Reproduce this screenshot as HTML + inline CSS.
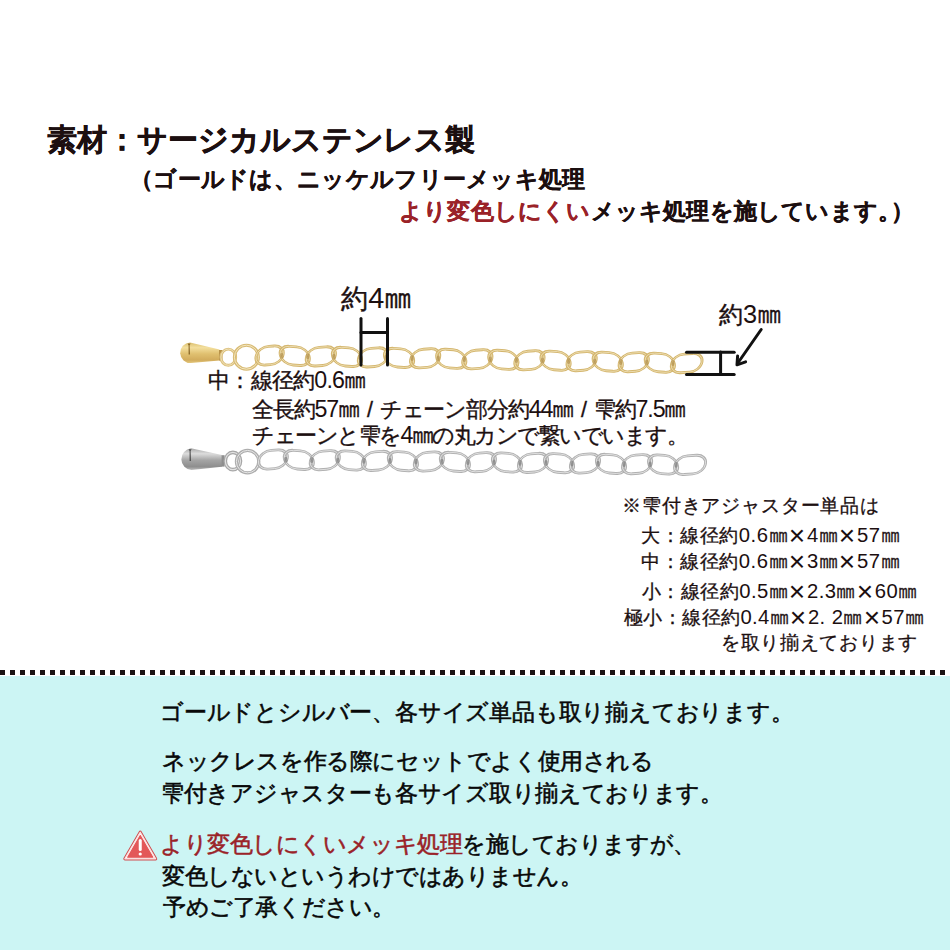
<!DOCTYPE html>
<html><head><meta charset="utf-8">
<style>
html,body{margin:0;padding:0;}
body{width:950px;height:950px;position:relative;overflow:hidden;background:#fff;font-family:"Liberation Sans",sans-serif;color:#1c0f10;}
.t{position:absolute;white-space:nowrap;line-height:1;z-index:2;}
.r{color:#9a2228;}
.k{color:#080808;}
.x{display:inline-block;width:1em;text-align:center;transform:scale(1.5);transform-origin:50% 52%;-webkit-text-stroke-width:0;}
.mm{display:inline-block;transform:scale(1.04,1.3);transform-origin:50% 84.6%;}
.sp{letter-spacing:2px;}
.n{font-size:1.08em;line-height:0;-webkit-text-stroke-width:0;}
.p1{letter-spacing:-10px;}
#cyan{position:absolute;left:0;top:676px;width:950px;height:274px;background:#ccf5f4;}
#dots{position:absolute;left:0;top:670px;width:950px;height:5px;background:repeating-linear-gradient(90deg,#1a1212 0,#1a1212 5px,transparent 5px,transparent 10px);}
svg{position:absolute;left:0;top:0;z-index:1;}
</style></head><body>
<div id="cyan"></div>
<div id="dots"></div>
<svg width="950" height="950" viewBox="0 0 950 950">
<defs>
 <linearGradient id="gd" x1="0" y1="0" x2="0" y2="1">
  <stop offset="0" stop-color="#dcc070"/><stop offset="0.25" stop-color="#f3df9e"/><stop offset="0.55" stop-color="#e0c070"/><stop offset="0.85" stop-color="#d2ac5c"/><stop offset="1" stop-color="#e4c87e"/>
 </linearGradient>
 <linearGradient id="sd" x1="0" y1="0" x2="0" y2="1">
  <stop offset="0" stop-color="#a8a8a8"/><stop offset="0.25" stop-color="#dcdcdc"/><stop offset="0.55" stop-color="#a4a4a4"/><stop offset="0.85" stop-color="#8e8e8e"/><stop offset="1" stop-color="#bdbdbd"/>
 </linearGradient>
</defs>
<!-- gold drop -->
<path d="M190 342.5 L219.5 349.6 L219.5 360.6 L191 363.1 A10.3 10.3 0 0 1 190 342.5 Z" fill="url(#gd)"/>
<path d="M187.6 343.6 L190.6 343.6 L189.6 345.5 L190 354.5 L188.6 354.5 L188.6 345.5 Z" fill="#8a6828"/>
<rect x="219" y="350" width="3.4" height="10.6" fill="#b89248"/>
<ellipse cx="228.3" cy="357.2" rx="7.4" ry="8.1" fill="none" stroke="#dcc07c" stroke-width="2.9"/>
<ellipse cx="228.3" cy="357.2" rx="7.4" ry="8.1" fill="none" stroke="#f2e4bd" stroke-width="0.9"/>
<circle cx="246.4" cy="357.2" r="12" fill="none" stroke="#d8bb74" stroke-width="3.1"/>
<circle cx="246.4" cy="357.2" r="12" fill="none" stroke="#f4e7c2" stroke-width="1.0"/>
<rect x="256.0" y="346.3" width="27.2" height="18.4" rx="11" ry="9" transform="translate(269.6 355.5) rotate(-4) skewX(-14) translate(-269.6 -355.5)" fill="none" stroke="#d4b66e" stroke-width="2.8"/>
<rect x="256.0" y="346.3" width="27.2" height="18.4" rx="11" ry="9" transform="translate(269.6 355.5) rotate(-4) skewX(-14) translate(-269.6 -355.5)" fill="none" stroke="#f0e2b8" stroke-width="0.8"/>
<rect x="280.2" y="346.7" width="29.1" height="18.4" rx="11" ry="9" transform="translate(294.7 355.9) rotate(4) skewX(14) translate(-294.7 -355.9)" fill="none" stroke="#d4b66e" stroke-width="2.8"/>
<rect x="280.2" y="346.7" width="29.1" height="18.4" rx="11" ry="9" transform="translate(294.7 355.9) rotate(4) skewX(14) translate(-294.7 -355.9)" fill="none" stroke="#f0e2b8" stroke-width="0.8"/>
<rect x="306.3" y="347.2" width="29.1" height="18.4" rx="11" ry="9" transform="translate(320.8 356.4) rotate(-4) skewX(-14) translate(-320.8 -356.4)" fill="none" stroke="#d4b66e" stroke-width="2.8"/>
<rect x="306.3" y="347.2" width="29.1" height="18.4" rx="11" ry="9" transform="translate(320.8 356.4) rotate(-4) skewX(-14) translate(-320.8 -356.4)" fill="none" stroke="#f0e2b8" stroke-width="0.8"/>
<rect x="332.4" y="347.7" width="29.1" height="18.4" rx="11" ry="9" transform="translate(346.9 356.9) rotate(4) skewX(14) translate(-346.9 -356.9)" fill="none" stroke="#d4b66e" stroke-width="2.8"/>
<rect x="332.4" y="347.7" width="29.1" height="18.4" rx="11" ry="9" transform="translate(346.9 356.9) rotate(4) skewX(14) translate(-346.9 -356.9)" fill="none" stroke="#f0e2b8" stroke-width="0.8"/>
<rect x="358.4" y="348.2" width="29.1" height="18.4" rx="11" ry="9" transform="translate(373.0 357.4) rotate(-4) skewX(-14) translate(-373.0 -357.4)" fill="none" stroke="#d4b66e" stroke-width="2.8"/>
<rect x="358.4" y="348.2" width="29.1" height="18.4" rx="11" ry="9" transform="translate(373.0 357.4) rotate(-4) skewX(-14) translate(-373.0 -357.4)" fill="none" stroke="#f0e2b8" stroke-width="0.8"/>
<rect x="384.5" y="348.7" width="29.1" height="18.4" rx="11" ry="9" transform="translate(399.1 357.9) rotate(4) skewX(14) translate(-399.1 -357.9)" fill="none" stroke="#d4b66e" stroke-width="2.8"/>
<rect x="384.5" y="348.7" width="29.1" height="18.4" rx="11" ry="9" transform="translate(399.1 357.9) rotate(4) skewX(14) translate(-399.1 -357.9)" fill="none" stroke="#f0e2b8" stroke-width="0.8"/>
<rect x="410.6" y="349.1" width="29.1" height="18.4" rx="11" ry="9" transform="translate(425.1 358.3) rotate(-4) skewX(-14) translate(-425.1 -358.3)" fill="none" stroke="#d4b66e" stroke-width="2.8"/>
<rect x="410.6" y="349.1" width="29.1" height="18.4" rx="11" ry="9" transform="translate(425.1 358.3) rotate(-4) skewX(-14) translate(-425.1 -358.3)" fill="none" stroke="#f0e2b8" stroke-width="0.8"/>
<rect x="436.7" y="349.6" width="29.1" height="18.4" rx="11" ry="9" transform="translate(451.2 358.8) rotate(4) skewX(14) translate(-451.2 -358.8)" fill="none" stroke="#d4b66e" stroke-width="2.8"/>
<rect x="436.7" y="349.6" width="29.1" height="18.4" rx="11" ry="9" transform="translate(451.2 358.8) rotate(4) skewX(14) translate(-451.2 -358.8)" fill="none" stroke="#f0e2b8" stroke-width="0.8"/>
<rect x="462.8" y="350.1" width="29.1" height="18.4" rx="11" ry="9" transform="translate(477.3 359.3) rotate(-4) skewX(-14) translate(-477.3 -359.3)" fill="none" stroke="#d4b66e" stroke-width="2.8"/>
<rect x="462.8" y="350.1" width="29.1" height="18.4" rx="11" ry="9" transform="translate(477.3 359.3) rotate(-4) skewX(-14) translate(-477.3 -359.3)" fill="none" stroke="#f0e2b8" stroke-width="0.8"/>
<rect x="488.8" y="350.6" width="29.1" height="18.4" rx="11" ry="9" transform="translate(503.4 359.8) rotate(4) skewX(14) translate(-503.4 -359.8)" fill="none" stroke="#d4b66e" stroke-width="2.8"/>
<rect x="488.8" y="350.6" width="29.1" height="18.4" rx="11" ry="9" transform="translate(503.4 359.8) rotate(4) skewX(14) translate(-503.4 -359.8)" fill="none" stroke="#f0e2b8" stroke-width="0.8"/>
<rect x="514.9" y="351.1" width="29.1" height="18.4" rx="11" ry="9" transform="translate(529.5 360.3) rotate(-4) skewX(-14) translate(-529.5 -360.3)" fill="none" stroke="#d4b66e" stroke-width="2.8"/>
<rect x="514.9" y="351.1" width="29.1" height="18.4" rx="11" ry="9" transform="translate(529.5 360.3) rotate(-4) skewX(-14) translate(-529.5 -360.3)" fill="none" stroke="#f0e2b8" stroke-width="0.8"/>
<rect x="541.0" y="351.5" width="29.1" height="18.4" rx="11" ry="9" transform="translate(555.5 360.7) rotate(4) skewX(14) translate(-555.5 -360.7)" fill="none" stroke="#d4b66e" stroke-width="2.8"/>
<rect x="541.0" y="351.5" width="29.1" height="18.4" rx="11" ry="9" transform="translate(555.5 360.7) rotate(4) skewX(14) translate(-555.5 -360.7)" fill="none" stroke="#f0e2b8" stroke-width="0.8"/>
<rect x="567.1" y="352.0" width="29.1" height="18.4" rx="11" ry="9" transform="translate(581.6 361.2) rotate(-4) skewX(-14) translate(-581.6 -361.2)" fill="none" stroke="#d4b66e" stroke-width="2.8"/>
<rect x="567.1" y="352.0" width="29.1" height="18.4" rx="11" ry="9" transform="translate(581.6 361.2) rotate(-4) skewX(-14) translate(-581.6 -361.2)" fill="none" stroke="#f0e2b8" stroke-width="0.8"/>
<rect x="593.2" y="352.5" width="29.1" height="18.4" rx="11" ry="9" transform="translate(607.7 361.7) rotate(4) skewX(14) translate(-607.7 -361.7)" fill="none" stroke="#d4b66e" stroke-width="2.8"/>
<rect x="593.2" y="352.5" width="29.1" height="18.4" rx="11" ry="9" transform="translate(607.7 361.7) rotate(4) skewX(14) translate(-607.7 -361.7)" fill="none" stroke="#f0e2b8" stroke-width="0.8"/>
<rect x="619.2" y="353.0" width="29.1" height="18.4" rx="11" ry="9" transform="translate(633.8 362.2) rotate(-4) skewX(-14) translate(-633.8 -362.2)" fill="none" stroke="#d4b66e" stroke-width="2.8"/>
<rect x="619.2" y="353.0" width="29.1" height="18.4" rx="11" ry="9" transform="translate(633.8 362.2) rotate(-4) skewX(-14) translate(-633.8 -362.2)" fill="none" stroke="#f0e2b8" stroke-width="0.8"/>
<rect x="645.3" y="353.5" width="29.1" height="18.4" rx="11" ry="9" transform="translate(659.9 362.7) rotate(4) skewX(14) translate(-659.9 -362.7)" fill="none" stroke="#d4b66e" stroke-width="2.8"/>
<rect x="645.3" y="353.5" width="29.1" height="18.4" rx="11" ry="9" transform="translate(659.9 362.7) rotate(4) skewX(14) translate(-659.9 -362.7)" fill="none" stroke="#f0e2b8" stroke-width="0.8"/>
<rect x="671.4" y="353.9" width="30.6" height="18.4" rx="11" ry="9" transform="translate(686.7 363.1) rotate(-4) skewX(-14) translate(-686.7 -363.1)" fill="none" stroke="#d4b66e" stroke-width="2.8"/>
<rect x="671.4" y="353.9" width="30.6" height="18.4" rx="11" ry="9" transform="translate(686.7 363.1) rotate(-4) skewX(-14) translate(-686.7 -363.1)" fill="none" stroke="#f0e2b8" stroke-width="0.8"/>
<ellipse cx="281.7" cy="355.7" rx="1.7" ry="3.0" fill="#a8843e" opacity="0.55"/>
<ellipse cx="307.8" cy="356.2" rx="1.7" ry="3.0" fill="#a8843e" opacity="0.55"/>
<ellipse cx="333.9" cy="356.7" rx="1.7" ry="3.0" fill="#a8843e" opacity="0.55"/>
<ellipse cx="359.9" cy="357.1" rx="1.7" ry="3.0" fill="#a8843e" opacity="0.55"/>
<ellipse cx="386.0" cy="357.6" rx="1.7" ry="3.0" fill="#a8843e" opacity="0.55"/>
<ellipse cx="412.1" cy="358.1" rx="1.7" ry="3.0" fill="#a8843e" opacity="0.55"/>
<ellipse cx="438.2" cy="358.6" rx="1.7" ry="3.0" fill="#a8843e" opacity="0.55"/>
<ellipse cx="464.3" cy="359.1" rx="1.7" ry="3.0" fill="#a8843e" opacity="0.55"/>
<ellipse cx="490.3" cy="359.5" rx="1.7" ry="3.0" fill="#a8843e" opacity="0.55"/>
<ellipse cx="516.4" cy="360.0" rx="1.7" ry="3.0" fill="#a8843e" opacity="0.55"/>
<ellipse cx="542.5" cy="360.5" rx="1.7" ry="3.0" fill="#a8843e" opacity="0.55"/>
<ellipse cx="568.6" cy="361.0" rx="1.7" ry="3.0" fill="#a8843e" opacity="0.55"/>
<ellipse cx="594.7" cy="361.5" rx="1.7" ry="3.0" fill="#a8843e" opacity="0.55"/>
<ellipse cx="620.7" cy="361.9" rx="1.7" ry="3.0" fill="#a8843e" opacity="0.55"/>
<ellipse cx="646.8" cy="362.4" rx="1.7" ry="3.0" fill="#a8843e" opacity="0.55"/>
<ellipse cx="672.9" cy="362.9" rx="1.7" ry="3.0" fill="#a8843e" opacity="0.55"/>
<!-- silver drop -->
<path d="M191 448.3 L222 455 L222 466.8 L191.5 470 A10.9 10.9 0 0 1 191 448.3 Z" fill="url(#sd)"/>
<path d="M188.6 449.2 L191.6 449.2 L190.6 451 L191 461 L189.6 461 L189.6 451 Z" fill="#4e4e4e"/>
<rect x="221.6" y="455.2" width="3" height="11.4" fill="#8e8e8e"/>
<ellipse cx="232.9" cy="461" rx="7.6" ry="8.6" fill="none" stroke="#a6a6a6" stroke-width="3.6"/>
<ellipse cx="232.9" cy="461" rx="7.6" ry="8.6" fill="none" stroke="#e2e2e2" stroke-width="1.2"/>
<circle cx="247.6" cy="461.6" r="11.2" fill="none" stroke="#adadad" stroke-width="3.2"/>
<circle cx="247.6" cy="461.6" r="11.2" fill="none" stroke="#e8e8e8" stroke-width="1.0"/>
<rect x="258.5" y="450.3" width="28.8" height="18.4" rx="11" ry="9" transform="translate(272.9 459.5) rotate(-4) skewX(-14) translate(-272.9 -459.5)" fill="none" stroke="#b0b0b0" stroke-width="2.8"/>
<rect x="258.5" y="450.3" width="28.8" height="18.4" rx="11" ry="9" transform="translate(272.9 459.5) rotate(-4) skewX(-14) translate(-272.9 -459.5)" fill="none" stroke="#e8e8e8" stroke-width="0.8"/>
<rect x="284.3" y="450.7" width="29.0" height="18.4" rx="11" ry="9" transform="translate(298.8 459.9) rotate(4) skewX(14) translate(-298.8 -459.9)" fill="none" stroke="#b0b0b0" stroke-width="2.8"/>
<rect x="284.3" y="450.7" width="29.0" height="18.4" rx="11" ry="9" transform="translate(298.8 459.9) rotate(4) skewX(14) translate(-298.8 -459.9)" fill="none" stroke="#e8e8e8" stroke-width="0.8"/>
<rect x="310.3" y="451.0" width="29.0" height="18.4" rx="11" ry="9" transform="translate(324.8 460.2) rotate(-4) skewX(-14) translate(-324.8 -460.2)" fill="none" stroke="#b0b0b0" stroke-width="2.8"/>
<rect x="310.3" y="451.0" width="29.0" height="18.4" rx="11" ry="9" transform="translate(324.8 460.2) rotate(-4) skewX(-14) translate(-324.8 -460.2)" fill="none" stroke="#e8e8e8" stroke-width="0.8"/>
<rect x="336.3" y="451.3" width="29.0" height="18.4" rx="11" ry="9" transform="translate(350.9 460.5) rotate(4) skewX(14) translate(-350.9 -460.5)" fill="none" stroke="#b0b0b0" stroke-width="2.8"/>
<rect x="336.3" y="451.3" width="29.0" height="18.4" rx="11" ry="9" transform="translate(350.9 460.5) rotate(4) skewX(14) translate(-350.9 -460.5)" fill="none" stroke="#e8e8e8" stroke-width="0.8"/>
<rect x="362.4" y="451.7" width="29.0" height="18.4" rx="11" ry="9" transform="translate(376.9 460.9) rotate(-4) skewX(-14) translate(-376.9 -460.9)" fill="none" stroke="#b0b0b0" stroke-width="2.8"/>
<rect x="362.4" y="451.7" width="29.0" height="18.4" rx="11" ry="9" transform="translate(376.9 460.9) rotate(-4) skewX(-14) translate(-376.9 -460.9)" fill="none" stroke="#e8e8e8" stroke-width="0.8"/>
<rect x="388.4" y="452.0" width="29.0" height="18.4" rx="11" ry="9" transform="translate(402.9 461.2) rotate(4) skewX(14) translate(-402.9 -461.2)" fill="none" stroke="#b0b0b0" stroke-width="2.8"/>
<rect x="388.4" y="452.0" width="29.0" height="18.4" rx="11" ry="9" transform="translate(402.9 461.2) rotate(4) skewX(14) translate(-402.9 -461.2)" fill="none" stroke="#e8e8e8" stroke-width="0.8"/>
<rect x="414.4" y="452.3" width="29.0" height="18.4" rx="11" ry="9" transform="translate(428.9 461.5) rotate(-4) skewX(-14) translate(-428.9 -461.5)" fill="none" stroke="#b0b0b0" stroke-width="2.8"/>
<rect x="414.4" y="452.3" width="29.0" height="18.4" rx="11" ry="9" transform="translate(428.9 461.5) rotate(-4) skewX(-14) translate(-428.9 -461.5)" fill="none" stroke="#e8e8e8" stroke-width="0.8"/>
<rect x="440.4" y="452.7" width="29.0" height="18.4" rx="11" ry="9" transform="translate(454.9 461.9) rotate(4) skewX(14) translate(-454.9 -461.9)" fill="none" stroke="#b0b0b0" stroke-width="2.8"/>
<rect x="440.4" y="452.7" width="29.0" height="18.4" rx="11" ry="9" transform="translate(454.9 461.9) rotate(4) skewX(14) translate(-454.9 -461.9)" fill="none" stroke="#e8e8e8" stroke-width="0.8"/>
<rect x="466.4" y="453.0" width="29.0" height="18.4" rx="11" ry="9" transform="translate(481.0 462.2) rotate(-4) skewX(-14) translate(-481.0 -462.2)" fill="none" stroke="#b0b0b0" stroke-width="2.8"/>
<rect x="466.4" y="453.0" width="29.0" height="18.4" rx="11" ry="9" transform="translate(481.0 462.2) rotate(-4) skewX(-14) translate(-481.0 -462.2)" fill="none" stroke="#e8e8e8" stroke-width="0.8"/>
<rect x="492.5" y="453.3" width="29.0" height="18.4" rx="11" ry="9" transform="translate(507.0 462.5) rotate(4) skewX(14) translate(-507.0 -462.5)" fill="none" stroke="#b0b0b0" stroke-width="2.8"/>
<rect x="492.5" y="453.3" width="29.0" height="18.4" rx="11" ry="9" transform="translate(507.0 462.5) rotate(4) skewX(14) translate(-507.0 -462.5)" fill="none" stroke="#e8e8e8" stroke-width="0.8"/>
<rect x="518.5" y="453.7" width="29.0" height="18.4" rx="11" ry="9" transform="translate(533.0 462.9) rotate(-4) skewX(-14) translate(-533.0 -462.9)" fill="none" stroke="#b0b0b0" stroke-width="2.8"/>
<rect x="518.5" y="453.7" width="29.0" height="18.4" rx="11" ry="9" transform="translate(533.0 462.9) rotate(-4) skewX(-14) translate(-533.0 -462.9)" fill="none" stroke="#e8e8e8" stroke-width="0.8"/>
<rect x="544.5" y="454.0" width="29.0" height="18.4" rx="11" ry="9" transform="translate(559.0 463.2) rotate(4) skewX(14) translate(-559.0 -463.2)" fill="none" stroke="#b0b0b0" stroke-width="2.8"/>
<rect x="544.5" y="454.0" width="29.0" height="18.4" rx="11" ry="9" transform="translate(559.0 463.2) rotate(4) skewX(14) translate(-559.0 -463.2)" fill="none" stroke="#e8e8e8" stroke-width="0.8"/>
<rect x="570.5" y="454.3" width="29.0" height="18.4" rx="11" ry="9" transform="translate(585.0 463.5) rotate(-4) skewX(-14) translate(-585.0 -463.5)" fill="none" stroke="#b0b0b0" stroke-width="2.8"/>
<rect x="570.5" y="454.3" width="29.0" height="18.4" rx="11" ry="9" transform="translate(585.0 463.5) rotate(-4) skewX(-14) translate(-585.0 -463.5)" fill="none" stroke="#e8e8e8" stroke-width="0.8"/>
<rect x="596.5" y="454.7" width="29.0" height="18.4" rx="11" ry="9" transform="translate(611.0 463.9) rotate(4) skewX(14) translate(-611.0 -463.9)" fill="none" stroke="#b0b0b0" stroke-width="2.8"/>
<rect x="596.5" y="454.7" width="29.0" height="18.4" rx="11" ry="9" transform="translate(611.0 463.9) rotate(4) skewX(14) translate(-611.0 -463.9)" fill="none" stroke="#e8e8e8" stroke-width="0.8"/>
<rect x="622.6" y="455.0" width="29.0" height="18.4" rx="11" ry="9" transform="translate(637.1 464.2) rotate(-4) skewX(-14) translate(-637.1 -464.2)" fill="none" stroke="#b0b0b0" stroke-width="2.8"/>
<rect x="622.6" y="455.0" width="29.0" height="18.4" rx="11" ry="9" transform="translate(637.1 464.2) rotate(-4) skewX(-14) translate(-637.1 -464.2)" fill="none" stroke="#e8e8e8" stroke-width="0.8"/>
<rect x="648.6" y="455.3" width="29.0" height="18.4" rx="11" ry="9" transform="translate(663.1 464.5) rotate(4) skewX(14) translate(-663.1 -464.5)" fill="none" stroke="#b0b0b0" stroke-width="2.8"/>
<rect x="648.6" y="455.3" width="29.0" height="18.4" rx="11" ry="9" transform="translate(663.1 464.5) rotate(4) skewX(14) translate(-663.1 -464.5)" fill="none" stroke="#e8e8e8" stroke-width="0.8"/>
<rect x="674.6" y="455.7" width="30.9" height="18.4" rx="11" ry="9" transform="translate(690.0 464.9) rotate(-4) skewX(-14) translate(-690.0 -464.9)" fill="none" stroke="#b0b0b0" stroke-width="2.8"/>
<rect x="674.6" y="455.7" width="30.9" height="18.4" rx="11" ry="9" transform="translate(690.0 464.9) rotate(-4) skewX(-14) translate(-690.0 -464.9)" fill="none" stroke="#e8e8e8" stroke-width="0.8"/>
<ellipse cx="285.8" cy="459.7" rx="1.7" ry="3.0" fill="#707070" opacity="0.55"/>
<ellipse cx="311.8" cy="460.0" rx="1.7" ry="3.0" fill="#707070" opacity="0.55"/>
<ellipse cx="337.8" cy="460.4" rx="1.7" ry="3.0" fill="#707070" opacity="0.55"/>
<ellipse cx="363.9" cy="460.7" rx="1.7" ry="3.0" fill="#707070" opacity="0.55"/>
<ellipse cx="389.9" cy="461.0" rx="1.7" ry="3.0" fill="#707070" opacity="0.55"/>
<ellipse cx="415.9" cy="461.4" rx="1.7" ry="3.0" fill="#707070" opacity="0.55"/>
<ellipse cx="441.9" cy="461.7" rx="1.7" ry="3.0" fill="#707070" opacity="0.55"/>
<ellipse cx="467.9" cy="462.0" rx="1.7" ry="3.0" fill="#707070" opacity="0.55"/>
<ellipse cx="494.0" cy="462.4" rx="1.7" ry="3.0" fill="#707070" opacity="0.55"/>
<ellipse cx="520.0" cy="462.7" rx="1.7" ry="3.0" fill="#707070" opacity="0.55"/>
<ellipse cx="546.0" cy="463.0" rx="1.7" ry="3.0" fill="#707070" opacity="0.55"/>
<ellipse cx="572.0" cy="463.4" rx="1.7" ry="3.0" fill="#707070" opacity="0.55"/>
<ellipse cx="598.0" cy="463.7" rx="1.7" ry="3.0" fill="#707070" opacity="0.55"/>
<ellipse cx="624.1" cy="464.0" rx="1.7" ry="3.0" fill="#707070" opacity="0.55"/>
<ellipse cx="650.1" cy="464.4" rx="1.7" ry="3.0" fill="#707070" opacity="0.55"/>
<ellipse cx="676.1" cy="464.7" rx="1.7" ry="3.0" fill="#707070" opacity="0.55"/>
<!-- warning -->
<path d="M140.25 832.2 L155.6 858.8 L124.9 858.8 Z" fill="#d04c4c" stroke="#cf4d4f" stroke-width="3.2" stroke-linejoin="round"/>
<path d="M140.25 832.2 L155.6 858.8 L124.9 858.8 Z" fill="#ffffff" stroke="#fbe3e3" stroke-width="1.3" stroke-linejoin="round"/>
<path d="M140.25 835.6 L152.8 857.2 L127.7 857.2 Z" fill="#e35859" stroke="#e35859" stroke-width="1.2" stroke-linejoin="round"/>
<line x1="140.25" y1="840.6" x2="140.25" y2="849.6" stroke="#fff" stroke-width="3" stroke-linecap="round"/>
<circle cx="140.25" cy="854" r="1.6" fill="#fff"/>
<!-- measures -->
<g stroke="#111" stroke-width="3" fill="none" stroke-linecap="round">
 <line x1="361" y1="318.5" x2="361" y2="365"/>
 <line x1="387.5" y1="318.5" x2="387.5" y2="365"/>
 <line x1="361" y1="332.5" x2="387.5" y2="332.5"/>
 <line x1="686.5" y1="352.2" x2="734.2" y2="352.2"/>
 <line x1="686.5" y1="374.4" x2="734.2" y2="374.4"/>
 <line x1="720.6" y1="352" x2="720.6" y2="374.4"/>
 <line x1="761.2" y1="329.5" x2="737.5" y2="363.5"/>
 <polyline points="737.6,356 737,364.8 745.6,361.8" stroke-linejoin="round"/>
</g>
</svg>
<div class="t" style="left:47.0px;top:125.0px;font-size:29.5px;letter-spacing:-0.05px;font-weight:700;-webkit-text-stroke:0.45px;">素材：サージカルステンレス製</div>
<div class="t" style="left:130.0px;top:169.0px;font-size:22.5px;letter-spacing:0.3px;font-weight:700;-webkit-text-stroke:0.3px;">（ゴールドは、ニッケルフリーメッキ処理</div>
<div class="t" style="left:399.0px;top:201.0px;font-size:22.5px;letter-spacing:0.2px;font-weight:700;-webkit-text-stroke:0.3px;"><span class="r">より変色しにくい</span>メッキ処理を施しています<span class="p1">。</span>）</div>
<div class="t" style="left:341.0px;top:285.5px;font-size:26.75px;letter-spacing:0.3px;-webkit-text-stroke:0.4px;">約<span class="n">4</span><span class="mm">㎜</span></div>
<div class="t" style="left:719.0px;top:304.0px;font-size:23.5px;letter-spacing:0.0px;-webkit-text-stroke:0.4px;">約<span class="n">3</span><span class="mm">㎜</span></div>
<div class="t" style="left:208.0px;top:371.0px;font-size:21.5px;letter-spacing:-0.75px;-webkit-text-stroke:0.35px;">中：線径約<span class="n">0.6</span><span class="mm">㎜</span></div>
<div class="t" style="left:252.0px;top:400.0px;font-size:21.5px;letter-spacing:-1.15px;-webkit-text-stroke:0.35px;">全長約<span class="n">57</span><span class="mm">㎜</span><span class="sp"> </span>/<span class="sp"> </span>チェーン部分約<span class="n">44</span><span class="mm">㎜</span><span class="sp"> </span>/<span class="sp"> </span>雫約<span class="n">7.5</span><span class="mm">㎜</span></div>
<div class="t" style="left:252.0px;top:426.0px;font-size:21.5px;letter-spacing:-1.5px;-webkit-text-stroke:0.35px;">チェーンと雫を<span class="n">4</span><span class="mm">㎜</span>の丸カンで繋いでいます。</div>
<div class="t" style="left:622.0px;top:497.0px;font-size:18.75px;letter-spacing:0.85px;-webkit-text-stroke:0.3px;">※雫付きアジャスター単品は</div>
<div class="t" style="left:641.0px;top:527.0px;font-size:18.75px;letter-spacing:0.55px;-webkit-text-stroke:0.3px;">大：線径約<span class="n">0.6</span><span class="mm">㎜</span><span class="x">×</span><span class="n">4</span><span class="mm">㎜</span><span class="x">×</span><span class="n">57</span><span class="mm">㎜</span></div>
<div class="t" style="left:641.0px;top:553.0px;font-size:18.75px;letter-spacing:0.55px;-webkit-text-stroke:0.3px;">中：線径約<span class="n">0.6</span><span class="mm">㎜</span><span class="x">×</span><span class="n">3</span><span class="mm">㎜</span><span class="x">×</span><span class="n">57</span><span class="mm">㎜</span></div>
<div class="t" style="left:642.0px;top:583.0px;font-size:18.75px;letter-spacing:0.45px;-webkit-text-stroke:0.3px;">小：線径約<span class="n">0.5</span><span class="mm">㎜</span><span class="x">×</span><span class="n">2.3</span><span class="mm">㎜</span><span class="x">×</span><span class="n">60</span><span class="mm">㎜</span></div>
<div class="t" style="left:624.0px;top:608.5px;font-size:18.75px;letter-spacing:0.4px;-webkit-text-stroke:0.3px;">極小：線径約<span class="n">0.4</span><span class="mm">㎜</span><span class="x">×</span><span class="n">2. 2</span><span class="mm">㎜</span><span class="x">×</span><span class="n">57</span><span class="mm">㎜</span></div>
<div class="t" style="left:721.0px;top:634.0px;font-size:18.75px;letter-spacing:0.7px;-webkit-text-stroke:0.3px;">を取り揃えております</div>
<div class="t k" style="left:160.0px;top:701.5px;font-size:22.5px;letter-spacing:-0.2px;-webkit-text-stroke:0.55px;">ゴールドとシルバー、各サイズ単品も取り揃えております。</div>
<div class="t k" style="left:162.0px;top:750.5px;font-size:22.5px;letter-spacing:-0.4px;-webkit-text-stroke:0.55px;">ネックレスを作る際にセットでよく使用される</div>
<div class="t k" style="left:161.0px;top:782.5px;font-size:22.5px;letter-spacing:-0.3px;-webkit-text-stroke:0.55px;">雫付きアジャスターも各サイズ取り揃えております。</div>
<div class="t k" style="left:160.0px;top:834.0px;font-size:22.5px;letter-spacing:-0.45px;-webkit-text-stroke:0.55px;"><span class="r">より変色しにくいメッキ処理</span>を施しておりますが、</div>
<div class="t k" style="left:162.0px;top:866.0px;font-size:22.5px;letter-spacing:-0.5px;-webkit-text-stroke:0.55px;">変色しないというわけではありません。</div>
<div class="t k" style="left:163.0px;top:897.0px;font-size:22.5px;letter-spacing:-0.4px;-webkit-text-stroke:0.55px;">予めご了承ください。</div>
</body></html>
